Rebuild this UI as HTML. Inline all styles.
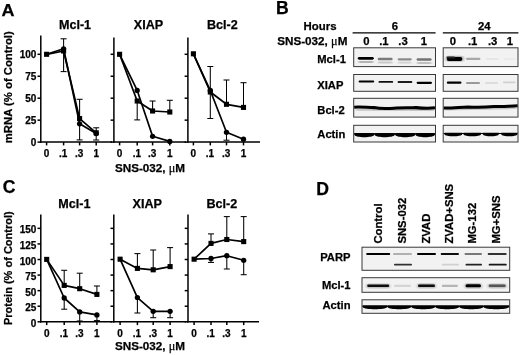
<!DOCTYPE html>
<html><head><meta charset="utf-8"><title>Figure</title>
<style>html,body{margin:0;padding:0;background:#fff;}svg{display:block;}.t{stroke:#000;stroke-width:0.25px;}</style>
</head><body>
<svg width="520" height="355" viewBox="0 0 520 355" font-family='"Liberation Sans", sans-serif' fill="#000" stroke="#000" stroke-width="0" >
<rect width="520" height="355" fill="#fff"/>
<text class="t" x="1.50" y="16.10" font-size="17.2" text-anchor="start" font-weight="bold" textLength="13" lengthAdjust="spacingAndGlyphs">A</text>
<text class="t" x="276.10" y="14.00" font-size="17.6" text-anchor="start" font-weight="bold" >B</text>
<text class="t" x="2.80" y="193.30" font-size="17.6" text-anchor="start" font-weight="bold" >C</text>
<text class="t" x="316.20" y="195.30" font-size="17.6" text-anchor="start" font-weight="bold" >D</text>
<g id="panelA">
<line x1="40.80" y1="35.40" x2="40.80" y2="142.85" stroke="#000" stroke-width="1.5" />
<line x1="40.05" y1="142.10" x2="112.00" y2="142.10" stroke="#000" stroke-width="1.5" />
<line x1="37.50" y1="54.30" x2="40.80" y2="54.30" stroke="#000" stroke-width="1.5" />
<line x1="37.50" y1="76.25" x2="40.80" y2="76.25" stroke="#000" stroke-width="1.5" />
<line x1="37.50" y1="98.20" x2="40.80" y2="98.20" stroke="#000" stroke-width="1.5" />
<line x1="37.50" y1="120.15" x2="40.80" y2="120.15" stroke="#000" stroke-width="1.5" />
<line x1="37.50" y1="142.10" x2="40.80" y2="142.10" stroke="#000" stroke-width="1.5" />
<line x1="46.60" y1="142.10" x2="46.60" y2="145.40" stroke="#000" stroke-width="1.5" />
<line x1="63.60" y1="142.10" x2="63.60" y2="145.40" stroke="#000" stroke-width="1.5" />
<line x1="79.60" y1="142.10" x2="79.60" y2="145.40" stroke="#000" stroke-width="1.5" />
<line x1="96.20" y1="142.10" x2="96.20" y2="145.40" stroke="#000" stroke-width="1.5" />
<text class="t" x="46.60" y="156.50" font-size="10" text-anchor="middle" font-weight="bold" >0</text>
<text class="t" x="63.20" y="156.50" font-size="10" text-anchor="middle" font-weight="bold" >.1</text>
<text class="t" x="79.20" y="156.50" font-size="10" text-anchor="middle" font-weight="bold" >.3</text>
<text class="t" x="96.20" y="156.50" font-size="10" text-anchor="middle" font-weight="bold" >1</text>
<text class="t" x="36.40" y="57.90" font-size="10" text-anchor="end" font-weight="bold" >100</text>
<text class="t" x="36.40" y="79.85" font-size="10" text-anchor="end" font-weight="bold" >75</text>
<text class="t" x="36.40" y="101.80" font-size="10" text-anchor="end" font-weight="bold" >50</text>
<text class="t" x="36.40" y="123.75" font-size="10" text-anchor="end" font-weight="bold" >25</text>
<text class="t" x="36.40" y="145.70" font-size="10" text-anchor="end" font-weight="bold" >0</text>
<text class="t" x="75.00" y="29.10" font-size="12.6" text-anchor="middle" font-weight="bold" >Mcl-1</text>
<line x1="113.90" y1="37.40" x2="113.90" y2="142.85" stroke="#000" stroke-width="1.5" />
<line x1="113.15" y1="142.10" x2="186.00" y2="142.10" stroke="#000" stroke-width="1.5" />
<line x1="110.60" y1="54.30" x2="113.90" y2="54.30" stroke="#000" stroke-width="1.5" />
<line x1="110.60" y1="76.25" x2="113.90" y2="76.25" stroke="#000" stroke-width="1.5" />
<line x1="110.60" y1="98.20" x2="113.90" y2="98.20" stroke="#000" stroke-width="1.5" />
<line x1="110.60" y1="120.15" x2="113.90" y2="120.15" stroke="#000" stroke-width="1.5" />
<line x1="110.60" y1="142.10" x2="113.90" y2="142.10" stroke="#000" stroke-width="1.5" />
<line x1="119.60" y1="142.10" x2="119.60" y2="145.40" stroke="#000" stroke-width="1.5" />
<line x1="137.20" y1="142.10" x2="137.20" y2="145.40" stroke="#000" stroke-width="1.5" />
<line x1="152.60" y1="142.10" x2="152.60" y2="145.40" stroke="#000" stroke-width="1.5" />
<line x1="169.80" y1="142.10" x2="169.80" y2="145.40" stroke="#000" stroke-width="1.5" />
<text class="t" x="119.60" y="156.50" font-size="10" text-anchor="middle" font-weight="bold" >0</text>
<text class="t" x="136.80" y="156.50" font-size="10" text-anchor="middle" font-weight="bold" >.1</text>
<text class="t" x="152.20" y="156.50" font-size="10" text-anchor="middle" font-weight="bold" >.3</text>
<text class="t" x="169.80" y="156.50" font-size="10" text-anchor="middle" font-weight="bold" >1</text>
<text class="t" x="148.50" y="29.10" font-size="12.6" text-anchor="middle" font-weight="bold" >XIAP</text>
<line x1="187.90" y1="37.40" x2="187.90" y2="142.85" stroke="#000" stroke-width="1.5" />
<line x1="187.15" y1="142.10" x2="260.00" y2="142.10" stroke="#000" stroke-width="1.5" />
<line x1="184.60" y1="54.30" x2="187.90" y2="54.30" stroke="#000" stroke-width="1.5" />
<line x1="184.60" y1="76.25" x2="187.90" y2="76.25" stroke="#000" stroke-width="1.5" />
<line x1="184.60" y1="98.20" x2="187.90" y2="98.20" stroke="#000" stroke-width="1.5" />
<line x1="184.60" y1="120.15" x2="187.90" y2="120.15" stroke="#000" stroke-width="1.5" />
<line x1="184.60" y1="142.10" x2="187.90" y2="142.10" stroke="#000" stroke-width="1.5" />
<line x1="193.40" y1="142.10" x2="193.40" y2="145.40" stroke="#000" stroke-width="1.5" />
<line x1="210.30" y1="142.10" x2="210.30" y2="145.40" stroke="#000" stroke-width="1.5" />
<line x1="226.50" y1="142.10" x2="226.50" y2="145.40" stroke="#000" stroke-width="1.5" />
<line x1="243.50" y1="142.10" x2="243.50" y2="145.40" stroke="#000" stroke-width="1.5" />
<text class="t" x="193.40" y="156.50" font-size="10" text-anchor="middle" font-weight="bold" >0</text>
<text class="t" x="209.90" y="156.50" font-size="10" text-anchor="middle" font-weight="bold" >.1</text>
<text class="t" x="226.10" y="156.50" font-size="10" text-anchor="middle" font-weight="bold" >.3</text>
<text class="t" x="243.50" y="156.50" font-size="10" text-anchor="middle" font-weight="bold" >1</text>
<text class="t" x="222.30" y="29.10" font-size="12.6" text-anchor="middle" font-weight="bold" >Bcl-2</text>
<text class="t" transform="translate(12.20,143.20) rotate(-90)" font-size="11.3" text-anchor="start" font-weight="bold">mRNA (% of Control)</text>
<text class="t" x="150" y="171.7" font-size="11.7" text-anchor="middle" font-weight="bold">SNS-032, <tspan font-weight="normal" font-family='"Liberation Serif", serif' font-size="12.2">μ</tspan>M</text>
<line x1="63.60" y1="49.00" x2="63.60" y2="38.80" stroke="#000" stroke-width="1.05" />
<line x1="60.60" y1="38.80" x2="66.60" y2="38.80" stroke="#000" stroke-width="1.05" />
<line x1="63.60" y1="51.00" x2="63.60" y2="71.60" stroke="#000" stroke-width="1.05" />
<line x1="60.60" y1="71.60" x2="66.60" y2="71.60" stroke="#000" stroke-width="1.05" />
<line x1="79.60" y1="118.50" x2="79.60" y2="99.30" stroke="#000" stroke-width="1.05" />
<line x1="76.60" y1="99.30" x2="82.60" y2="99.30" stroke="#000" stroke-width="1.05" />
<line x1="79.60" y1="124.00" x2="79.60" y2="139.90" stroke="#000" stroke-width="1.05" />
<line x1="76.60" y1="139.90" x2="82.60" y2="139.90" stroke="#000" stroke-width="1.05" />
<line x1="96.20" y1="133.00" x2="96.20" y2="127.80" stroke="#000" stroke-width="1.05" />
<line x1="93.20" y1="127.80" x2="99.20" y2="127.80" stroke="#000" stroke-width="1.05" />
<line x1="96.20" y1="133.50" x2="96.20" y2="140.00" stroke="#000" stroke-width="1.05" />
<line x1="93.20" y1="140.00" x2="99.20" y2="140.00" stroke="#000" stroke-width="1.05" />
<polyline points="46.60,54.30 63.60,51.00 79.60,118.60 96.20,132.80" fill="none" stroke="#000" stroke-width="1.7" stroke-linejoin="round"/>
<polyline points="46.60,54.30 63.60,48.80 79.60,123.80 96.20,133.50" fill="none" stroke="#000" stroke-width="1.7" stroke-linejoin="round"/>
<rect x="44.05" y="51.75" width="5.1" height="5.1" fill="#000"/>
<rect x="61.05" y="48.45" width="5.1" height="5.1" fill="#000"/>
<rect x="77.05" y="116.05" width="5.1" height="5.1" fill="#000"/>
<rect x="93.65" y="130.25" width="5.1" height="5.1" fill="#000"/>
<circle cx="63.60" cy="48.80" r="2.65" fill="#000"/>
<circle cx="79.60" cy="123.80" r="2.65" fill="#000"/>
<circle cx="96.20" cy="133.50" r="2.65" fill="#000"/>
<line x1="137.20" y1="101.00" x2="137.20" y2="119.90" stroke="#000" stroke-width="1.05" />
<line x1="134.20" y1="119.90" x2="140.20" y2="119.90" stroke="#000" stroke-width="1.05" />
<line x1="152.60" y1="111.00" x2="152.60" y2="101.00" stroke="#000" stroke-width="1.05" />
<line x1="149.60" y1="101.00" x2="155.60" y2="101.00" stroke="#000" stroke-width="1.05" />
<line x1="169.80" y1="112.00" x2="169.80" y2="100.30" stroke="#000" stroke-width="1.05" />
<line x1="166.80" y1="100.30" x2="172.80" y2="100.30" stroke="#000" stroke-width="1.05" />
<polyline points="119.60,54.30 137.20,101.00 152.60,111.00 169.80,112.00" fill="none" stroke="#000" stroke-width="1.7" stroke-linejoin="round"/>
<polyline points="119.60,54.30 137.20,90.40 152.60,136.30 169.80,141.40" fill="none" stroke="#000" stroke-width="1.7" stroke-linejoin="round"/>
<rect x="117.05" y="51.75" width="5.1" height="5.1" fill="#000"/>
<rect x="134.65" y="98.45" width="5.1" height="5.1" fill="#000"/>
<rect x="150.05" y="108.45" width="5.1" height="5.1" fill="#000"/>
<rect x="167.25" y="109.45" width="5.1" height="5.1" fill="#000"/>
<circle cx="137.20" cy="90.40" r="2.65" fill="#000"/>
<circle cx="152.60" cy="136.30" r="2.65" fill="#000"/>
<circle cx="169.80" cy="141.40" r="2.65" fill="#000"/>
<line x1="210.30" y1="91.00" x2="210.30" y2="66.50" stroke="#000" stroke-width="1.05" />
<line x1="207.30" y1="66.50" x2="213.30" y2="66.50" stroke="#000" stroke-width="1.05" />
<line x1="210.30" y1="91.00" x2="210.30" y2="118.50" stroke="#000" stroke-width="1.05" />
<line x1="207.30" y1="118.50" x2="213.30" y2="118.50" stroke="#000" stroke-width="1.05" />
<line x1="226.50" y1="104.30" x2="226.50" y2="80.00" stroke="#000" stroke-width="1.05" />
<line x1="223.50" y1="80.00" x2="229.50" y2="80.00" stroke="#000" stroke-width="1.05" />
<line x1="226.50" y1="132.30" x2="226.50" y2="140.20" stroke="#000" stroke-width="1.05" />
<line x1="223.50" y1="140.20" x2="229.50" y2="140.20" stroke="#000" stroke-width="1.05" />
<line x1="243.50" y1="107.40" x2="243.50" y2="82.70" stroke="#000" stroke-width="1.05" />
<line x1="240.50" y1="82.70" x2="246.50" y2="82.70" stroke="#000" stroke-width="1.05" />
<polyline points="193.40,53.80 210.30,92.00 226.50,104.30 243.50,107.40" fill="none" stroke="#000" stroke-width="1.7" stroke-linejoin="round"/>
<polyline points="193.40,53.80 210.30,90.50 226.50,132.30 243.50,139.20" fill="none" stroke="#000" stroke-width="1.7" stroke-linejoin="round"/>
<rect x="190.85" y="51.25" width="5.1" height="5.1" fill="#000"/>
<rect x="207.75" y="89.45" width="5.1" height="5.1" fill="#000"/>
<rect x="223.95" y="101.75" width="5.1" height="5.1" fill="#000"/>
<rect x="240.95" y="104.85" width="5.1" height="5.1" fill="#000"/>
<circle cx="210.30" cy="90.50" r="2.65" fill="#000"/>
<circle cx="226.50" cy="132.30" r="2.65" fill="#000"/>
<circle cx="243.50" cy="139.20" r="2.65" fill="#000"/>
</g>
<g id="panelC">
<line x1="40.80" y1="214.50" x2="40.80" y2="322.55" stroke="#000" stroke-width="1.5" />
<line x1="40.05" y1="321.80" x2="112.00" y2="321.80" stroke="#000" stroke-width="1.5" />
<line x1="37.50" y1="228.35" x2="40.80" y2="228.35" stroke="#000" stroke-width="1.5" />
<line x1="37.50" y1="243.93" x2="40.80" y2="243.93" stroke="#000" stroke-width="1.5" />
<line x1="37.50" y1="259.50" x2="40.80" y2="259.50" stroke="#000" stroke-width="1.5" />
<line x1="37.50" y1="275.07" x2="40.80" y2="275.07" stroke="#000" stroke-width="1.5" />
<line x1="37.50" y1="290.65" x2="40.80" y2="290.65" stroke="#000" stroke-width="1.5" />
<line x1="37.50" y1="306.23" x2="40.80" y2="306.23" stroke="#000" stroke-width="1.5" />
<line x1="37.50" y1="321.80" x2="40.80" y2="321.80" stroke="#000" stroke-width="1.5" />
<line x1="46.70" y1="321.80" x2="46.70" y2="325.10" stroke="#000" stroke-width="1.5" />
<line x1="64.20" y1="321.80" x2="64.20" y2="325.10" stroke="#000" stroke-width="1.5" />
<line x1="79.70" y1="321.80" x2="79.70" y2="325.10" stroke="#000" stroke-width="1.5" />
<line x1="96.90" y1="321.80" x2="96.90" y2="325.10" stroke="#000" stroke-width="1.5" />
<text class="t" x="46.70" y="336.50" font-size="10" text-anchor="middle" font-weight="bold" >0</text>
<text class="t" x="63.80" y="336.50" font-size="10" text-anchor="middle" font-weight="bold" >.1</text>
<text class="t" x="79.30" y="336.50" font-size="10" text-anchor="middle" font-weight="bold" >.3</text>
<text class="t" x="96.90" y="336.50" font-size="10" text-anchor="middle" font-weight="bold" >1</text>
<text class="t" x="36.40" y="233.35" font-size="10" text-anchor="end" font-weight="bold" >150</text>
<text class="t" x="36.40" y="248.93" font-size="10" text-anchor="end" font-weight="bold" >125</text>
<text class="t" x="36.40" y="264.50" font-size="10" text-anchor="end" font-weight="bold" >100</text>
<text class="t" x="36.40" y="280.07" font-size="10" text-anchor="end" font-weight="bold" >75</text>
<text class="t" x="36.40" y="295.65" font-size="10" text-anchor="end" font-weight="bold" >50</text>
<text class="t" x="36.40" y="311.23" font-size="10" text-anchor="end" font-weight="bold" >25</text>
<text class="t" x="36.40" y="326.80" font-size="10" text-anchor="end" font-weight="bold" >0</text>
<text class="t" x="74.40" y="207.80" font-size="12.6" text-anchor="middle" font-weight="bold" >Mcl-1</text>
<line x1="113.80" y1="214.50" x2="113.80" y2="322.55" stroke="#000" stroke-width="1.5" />
<line x1="113.05" y1="321.80" x2="186.00" y2="321.80" stroke="#000" stroke-width="1.5" />
<line x1="110.50" y1="228.35" x2="113.80" y2="228.35" stroke="#000" stroke-width="1.5" />
<line x1="110.50" y1="243.93" x2="113.80" y2="243.93" stroke="#000" stroke-width="1.5" />
<line x1="110.50" y1="259.50" x2="113.80" y2="259.50" stroke="#000" stroke-width="1.5" />
<line x1="110.50" y1="275.07" x2="113.80" y2="275.07" stroke="#000" stroke-width="1.5" />
<line x1="110.50" y1="290.65" x2="113.80" y2="290.65" stroke="#000" stroke-width="1.5" />
<line x1="110.50" y1="306.23" x2="113.80" y2="306.23" stroke="#000" stroke-width="1.5" />
<line x1="110.50" y1="321.80" x2="113.80" y2="321.80" stroke="#000" stroke-width="1.5" />
<line x1="120.10" y1="321.80" x2="120.10" y2="325.10" stroke="#000" stroke-width="1.5" />
<line x1="137.40" y1="321.80" x2="137.40" y2="325.10" stroke="#000" stroke-width="1.5" />
<line x1="153.20" y1="321.80" x2="153.20" y2="325.10" stroke="#000" stroke-width="1.5" />
<line x1="170.10" y1="321.80" x2="170.10" y2="325.10" stroke="#000" stroke-width="1.5" />
<text class="t" x="120.10" y="336.50" font-size="10" text-anchor="middle" font-weight="bold" >0</text>
<text class="t" x="137.00" y="336.50" font-size="10" text-anchor="middle" font-weight="bold" >.1</text>
<text class="t" x="152.80" y="336.50" font-size="10" text-anchor="middle" font-weight="bold" >.3</text>
<text class="t" x="170.10" y="336.50" font-size="10" text-anchor="middle" font-weight="bold" >1</text>
<text class="t" x="147.30" y="207.80" font-size="12.6" text-anchor="middle" font-weight="bold" >XIAP</text>
<line x1="188.00" y1="214.50" x2="188.00" y2="322.55" stroke="#000" stroke-width="1.5" />
<line x1="187.25" y1="321.80" x2="259.00" y2="321.80" stroke="#000" stroke-width="1.5" />
<line x1="184.70" y1="228.35" x2="188.00" y2="228.35" stroke="#000" stroke-width="1.5" />
<line x1="184.70" y1="243.93" x2="188.00" y2="243.93" stroke="#000" stroke-width="1.5" />
<line x1="184.70" y1="259.50" x2="188.00" y2="259.50" stroke="#000" stroke-width="1.5" />
<line x1="184.70" y1="275.07" x2="188.00" y2="275.07" stroke="#000" stroke-width="1.5" />
<line x1="184.70" y1="290.65" x2="188.00" y2="290.65" stroke="#000" stroke-width="1.5" />
<line x1="184.70" y1="306.23" x2="188.00" y2="306.23" stroke="#000" stroke-width="1.5" />
<line x1="184.70" y1="321.80" x2="188.00" y2="321.80" stroke="#000" stroke-width="1.5" />
<line x1="194.10" y1="321.80" x2="194.10" y2="325.10" stroke="#000" stroke-width="1.5" />
<line x1="211.00" y1="321.80" x2="211.00" y2="325.10" stroke="#000" stroke-width="1.5" />
<line x1="226.80" y1="321.80" x2="226.80" y2="325.10" stroke="#000" stroke-width="1.5" />
<line x1="243.70" y1="321.80" x2="243.70" y2="325.10" stroke="#000" stroke-width="1.5" />
<text class="t" x="194.10" y="336.50" font-size="10" text-anchor="middle" font-weight="bold" >0</text>
<text class="t" x="210.60" y="336.50" font-size="10" text-anchor="middle" font-weight="bold" >.1</text>
<text class="t" x="226.40" y="336.50" font-size="10" text-anchor="middle" font-weight="bold" >.3</text>
<text class="t" x="243.70" y="336.50" font-size="10" text-anchor="middle" font-weight="bold" >1</text>
<text class="t" x="221.80" y="207.80" font-size="12.6" text-anchor="middle" font-weight="bold" >Bcl-2</text>
<text class="t" transform="translate(11.60,325.00) rotate(-90)" font-size="11.0" text-anchor="start" font-weight="bold">Protein (% of Control)</text>
<text class="t" x="150" y="350.4" font-size="11.7" text-anchor="middle" font-weight="bold">SNS-032, <tspan font-weight="normal" font-family='"Liberation Serif", serif' font-size="12.2">μ</tspan>M</text>
<line x1="64.20" y1="285.40" x2="64.20" y2="270.30" stroke="#000" stroke-width="1.05" />
<line x1="61.20" y1="270.30" x2="67.20" y2="270.30" stroke="#000" stroke-width="1.05" />
<line x1="79.70" y1="288.70" x2="79.70" y2="273.20" stroke="#000" stroke-width="1.05" />
<line x1="76.70" y1="273.20" x2="82.70" y2="273.20" stroke="#000" stroke-width="1.05" />
<line x1="96.90" y1="294.40" x2="96.90" y2="286.00" stroke="#000" stroke-width="1.05" />
<line x1="93.90" y1="286.00" x2="99.90" y2="286.00" stroke="#000" stroke-width="1.05" />
<line x1="64.20" y1="298.00" x2="64.20" y2="309.20" stroke="#000" stroke-width="1.05" />
<line x1="61.20" y1="309.20" x2="67.20" y2="309.20" stroke="#000" stroke-width="1.05" />
<line x1="79.70" y1="311.90" x2="79.70" y2="321.00" stroke="#000" stroke-width="1.05" />
<line x1="76.70" y1="321.00" x2="82.70" y2="321.00" stroke="#000" stroke-width="1.05" />
<line x1="96.90" y1="314.90" x2="96.90" y2="320.60" stroke="#000" stroke-width="1.05" />
<line x1="93.90" y1="320.60" x2="99.90" y2="320.60" stroke="#000" stroke-width="1.05" />
<polyline points="46.70,259.40 64.20,285.40 79.70,288.70 96.90,294.40" fill="none" stroke="#000" stroke-width="1.7" stroke-linejoin="round"/>
<polyline points="46.70,259.40 64.20,298.00 79.70,311.90 96.90,314.90" fill="none" stroke="#000" stroke-width="1.7" stroke-linejoin="round"/>
<rect x="44.15" y="256.85" width="5.1" height="5.1" fill="#000"/>
<rect x="61.65" y="282.85" width="5.1" height="5.1" fill="#000"/>
<rect x="77.15" y="286.15" width="5.1" height="5.1" fill="#000"/>
<rect x="94.35" y="291.85" width="5.1" height="5.1" fill="#000"/>
<circle cx="64.20" cy="298.00" r="2.65" fill="#000"/>
<circle cx="79.70" cy="311.90" r="2.65" fill="#000"/>
<circle cx="96.90" cy="314.90" r="2.65" fill="#000"/>
<line x1="137.40" y1="268.40" x2="137.40" y2="253.60" stroke="#000" stroke-width="1.05" />
<line x1="134.40" y1="253.60" x2="140.40" y2="253.60" stroke="#000" stroke-width="1.05" />
<line x1="153.20" y1="269.80" x2="153.20" y2="250.00" stroke="#000" stroke-width="1.05" />
<line x1="150.20" y1="250.00" x2="156.20" y2="250.00" stroke="#000" stroke-width="1.05" />
<line x1="170.10" y1="266.60" x2="170.10" y2="247.60" stroke="#000" stroke-width="1.05" />
<line x1="167.10" y1="247.60" x2="173.10" y2="247.60" stroke="#000" stroke-width="1.05" />
<line x1="137.40" y1="297.60" x2="137.40" y2="313.00" stroke="#000" stroke-width="1.05" />
<line x1="134.40" y1="313.00" x2="140.40" y2="313.00" stroke="#000" stroke-width="1.05" />
<line x1="153.20" y1="311.30" x2="153.20" y2="317.70" stroke="#000" stroke-width="1.05" />
<line x1="150.20" y1="317.70" x2="156.20" y2="317.70" stroke="#000" stroke-width="1.05" />
<line x1="170.10" y1="311.30" x2="170.10" y2="317.70" stroke="#000" stroke-width="1.05" />
<line x1="167.10" y1="317.70" x2="173.10" y2="317.70" stroke="#000" stroke-width="1.05" />
<polyline points="120.10,259.20 137.40,268.40 153.20,269.80 170.10,266.60" fill="none" stroke="#000" stroke-width="1.7" stroke-linejoin="round"/>
<polyline points="120.10,259.20 137.40,297.60 153.20,311.30 170.10,311.30" fill="none" stroke="#000" stroke-width="1.7" stroke-linejoin="round"/>
<rect x="117.55" y="256.65" width="5.1" height="5.1" fill="#000"/>
<rect x="134.85" y="265.85" width="5.1" height="5.1" fill="#000"/>
<rect x="150.65" y="267.25" width="5.1" height="5.1" fill="#000"/>
<rect x="167.55" y="264.05" width="5.1" height="5.1" fill="#000"/>
<circle cx="137.40" cy="297.60" r="2.65" fill="#000"/>
<circle cx="153.20" cy="311.30" r="2.65" fill="#000"/>
<circle cx="170.10" cy="311.30" r="2.65" fill="#000"/>
<path d="M356,109.6 L434,109.8" fill="none" stroke="#999" stroke-width="2.2" opacity="0.5" filter="url(#b2)"/>
<path d="M445,109.4 L516,108.0" fill="none" stroke="#999" stroke-width="2.2" opacity="0.5" filter="url(#b2)"/>
<line x1="211.00" y1="243.40" x2="211.00" y2="233.90" stroke="#000" stroke-width="1.05" />
<line x1="208.00" y1="233.90" x2="214.00" y2="233.90" stroke="#000" stroke-width="1.05" />
<line x1="226.80" y1="239.50" x2="226.80" y2="216.60" stroke="#000" stroke-width="1.05" />
<line x1="223.80" y1="216.60" x2="229.80" y2="216.60" stroke="#000" stroke-width="1.05" />
<line x1="243.70" y1="241.60" x2="243.70" y2="216.60" stroke="#000" stroke-width="1.05" />
<line x1="240.70" y1="216.60" x2="246.70" y2="216.60" stroke="#000" stroke-width="1.05" />
<line x1="211.00" y1="258.50" x2="211.00" y2="262.40" stroke="#000" stroke-width="1.05" />
<line x1="208.00" y1="262.40" x2="214.00" y2="262.40" stroke="#000" stroke-width="1.05" />
<line x1="226.80" y1="255.70" x2="226.80" y2="269.00" stroke="#000" stroke-width="1.05" />
<line x1="223.80" y1="269.00" x2="229.80" y2="269.00" stroke="#000" stroke-width="1.05" />
<line x1="243.70" y1="260.30" x2="243.70" y2="274.70" stroke="#000" stroke-width="1.05" />
<line x1="240.70" y1="274.70" x2="246.70" y2="274.70" stroke="#000" stroke-width="1.05" />
<polyline points="194.10,259.20 211.00,243.40 226.80,239.50 243.70,241.60" fill="none" stroke="#000" stroke-width="1.7" stroke-linejoin="round"/>
<polyline points="194.10,259.20 211.00,258.50 226.80,255.70 243.70,260.30" fill="none" stroke="#000" stroke-width="1.7" stroke-linejoin="round"/>
<rect x="191.55" y="256.65" width="5.1" height="5.1" fill="#000"/>
<rect x="208.45" y="240.85" width="5.1" height="5.1" fill="#000"/>
<rect x="224.25" y="236.95" width="5.1" height="5.1" fill="#000"/>
<rect x="241.15" y="239.05" width="5.1" height="5.1" fill="#000"/>
<circle cx="211.00" cy="258.50" r="2.65" fill="#000"/>
<circle cx="226.80" cy="255.70" r="2.65" fill="#000"/>
<circle cx="243.70" cy="260.30" r="2.65" fill="#000"/>
</g>
<defs><filter id="b1" x="-20%" y="-200%" width="140%" height="500%"><feGaussianBlur stdDeviation="0.6 0.45"/></filter>
<filter id="b2" x="-20%" y="-200%" width="140%" height="500%"><feGaussianBlur stdDeviation="0.9 0.7"/></filter></defs>
<g id="panelB">
<text class="t" x="303.60" y="29.70" font-size="11.4" text-anchor="start" font-weight="bold" >Hours</text>
<text class="t" x="277.2" y="44.8" font-size="11.7" text-anchor="start" font-weight="bold">SNS-032, <tspan font-weight="normal" font-family='"Liberation Serif", serif' font-size="12.2">μ</tspan>M</text>
<text class="t" x="394.80" y="29.70" font-size="11.3" text-anchor="middle" font-weight="bold" >6</text>
<text class="t" x="484.30" y="29.70" font-size="11.3" text-anchor="middle" font-weight="bold" >24</text>
<line x1="352.60" y1="32.90" x2="435.60" y2="32.90" stroke="#000" stroke-width="1.2" />
<line x1="442.80" y1="32.90" x2="518.40" y2="32.90" stroke="#000" stroke-width="1.2" />
<text class="t" x="366.40" y="44.80" font-size="11.3" text-anchor="middle" font-weight="bold" >0</text>
<text class="t" x="383.90" y="44.80" font-size="11.3" text-anchor="middle" font-weight="bold" >.1</text>
<text class="t" x="403.00" y="44.80" font-size="11.3" text-anchor="middle" font-weight="bold" >.3</text>
<text class="t" x="424.00" y="44.80" font-size="11.3" text-anchor="middle" font-weight="bold" >1</text>
<text class="t" x="452.80" y="44.80" font-size="11.3" text-anchor="middle" font-weight="bold" >0</text>
<text class="t" x="472.70" y="44.80" font-size="11.3" text-anchor="middle" font-weight="bold" >.1</text>
<text class="t" x="492.70" y="44.80" font-size="11.3" text-anchor="middle" font-weight="bold" >.3</text>
<text class="t" x="509.80" y="44.80" font-size="11.3" text-anchor="middle" font-weight="bold" >1</text>
<text class="t" x="317.30" y="62.60" font-size="11.2" text-anchor="start" font-weight="bold" >Mcl-1</text>
<rect x="353.70" y="47.80" width="81.80" height="18.80" fill="#f2f2f2" stroke="#383838" stroke-width="1"/>
<rect x="443.20" y="47.80" width="74.80" height="18.80" fill="#f2f2f2" stroke="#383838" stroke-width="1"/>
<text class="t" x="317.30" y="89.00" font-size="11.2" text-anchor="start" font-weight="bold" >XIAP</text>
<rect x="353.70" y="74.50" width="81.80" height="16.80" fill="#f2f2f2" stroke="#383838" stroke-width="1"/>
<rect x="443.20" y="74.50" width="74.80" height="16.80" fill="#f2f2f2" stroke="#383838" stroke-width="1"/>
<text class="t" x="317.30" y="113.80" font-size="11.2" text-anchor="start" font-weight="bold" >Bcl-2</text>
<rect x="353.70" y="98.30" width="81.80" height="18.80" fill="#f2f2f2" stroke="#383838" stroke-width="1"/>
<rect x="443.20" y="98.30" width="74.80" height="18.80" fill="#f2f2f2" stroke="#383838" stroke-width="1"/>
<text class="t" x="317.30" y="138.20" font-size="11.2" text-anchor="start" font-weight="bold" >Actin</text>
<rect x="353.70" y="125.30" width="81.80" height="16.70" fill="#f2f2f2" stroke="#383838" stroke-width="1"/>
<rect x="443.20" y="125.30" width="74.80" height="16.70" fill="#f2f2f2" stroke="#383838" stroke-width="1"/>
<rect x="357.80" y="56.90" width="16.00" height="2.80" rx="1.40" fill="#000" opacity="1" filter="url(#b1)"/>
<rect x="358.50" y="61.00" width="15.00" height="2.00" rx="1.00" fill="#b4b4b4" opacity="1" filter="url(#b2)"/>
<rect x="377.70" y="57.75" width="14.90" height="2.50" rx="1.25" fill="#7a7a7a" opacity="1" filter="url(#b1)"/>
<rect x="378.00" y="61.55" width="14.50" height="1.90" rx="0.95" fill="#c8c8c8" opacity="1" filter="url(#b2)"/>
<rect x="397.60" y="58.15" width="14.20" height="2.30" rx="1.15" fill="#8c8c8c" opacity="1" filter="url(#b1)"/>
<rect x="398.00" y="61.80" width="13.50" height="1.80" rx="0.90" fill="#d0d0d0" opacity="1" filter="url(#b2)"/>
<rect x="416.60" y="58.25" width="15.00" height="2.50" rx="1.25" fill="#747474" opacity="1" filter="url(#b1)"/>
<rect x="417.00" y="62.00" width="14.50" height="2.00" rx="1.00" fill="#c0c0c0" opacity="1" filter="url(#b2)"/>
<rect x="445.50" y="55.80" width="18.50" height="6.00" rx="3.00" fill="#888" opacity="0.55" filter="url(#b2)"/>
<rect x="446.80" y="57.10" width="15.50" height="3.80" rx="1.90" fill="#000" opacity="1" filter="url(#b1)"/>
<rect x="446.50" y="56.60" width="8.50" height="2.00" rx="1.00" fill="#222" opacity="1" filter="url(#b1)"/>
<rect x="466.00" y="57.70" width="14.50" height="2.20" rx="1.10" fill="#a8a8a8" opacity="1" filter="url(#b1)"/>
<rect x="486.00" y="58.20" width="13.00" height="1.60" rx="0.80" fill="#e2e2e2" opacity="1" filter="url(#b1)"/>
<rect x="504.00" y="58.30" width="11.50" height="1.40" rx="0.70" fill="#e8e8e8" opacity="1" filter="url(#b1)"/>
<rect x="358.60" y="80.50" width="15.60" height="2.00" rx="1.00" fill="#000" opacity="1" filter="url(#b1)"/>
<rect x="378.50" y="80.95" width="14.70" height="1.90" rx="0.95" fill="#111" opacity="1" filter="url(#b1)"/>
<rect x="397.60" y="81.10" width="14.70" height="1.80" rx="0.90" fill="#1a1a1a" opacity="1" filter="url(#b1)"/>
<rect x="416.60" y="81.70" width="15.40" height="2.20" rx="1.10" fill="#000" opacity="1" filter="url(#b1)"/>
<rect x="446.80" y="81.55" width="14.70" height="2.30" rx="1.15" fill="#000" opacity="1" filter="url(#b1)"/>
<rect x="466.00" y="81.90" width="14.00" height="2.00" rx="1.00" fill="#999" opacity="1" filter="url(#b1)"/>
<rect x="485.00" y="82.20" width="13.00" height="1.60" rx="0.80" fill="#d5d5d5" opacity="1" filter="url(#b1)"/>
<rect x="503.00" y="81.50" width="12.50" height="1.80" rx="0.90" fill="#d0d0d0" opacity="1" filter="url(#b1)"/>
<path d="M356,109.6 L434,109.8" fill="none" stroke="#999" stroke-width="2.2" opacity="0.5" filter="url(#b2)"/>
<path d="M445,109.4 L516,108.0" fill="none" stroke="#999" stroke-width="2.2" opacity="0.5" filter="url(#b2)"/>
<path d="M354.2,107.2 C360,106.6 368,107.6 374,107.6 C378,108.4 386,108.8 394,108.2 C402,107.6 410,108 416,107.6 C422,108.2 430,108.4 435,107.8" fill="none" stroke="#000" stroke-width="3.1" filter="url(#b1)"/>
<path d="M443.7,108 C452,108.2 460,107.2 468,107 C478,107.4 486,107.2 494,106.6 C502,106.6 510,106 517.6,105.8" fill="none" stroke="#000" stroke-width="3.0" filter="url(#b1)"/>
<path d="M354.50,133.10 L374.20,133.10 L374.20,135.00 C373.21,137.90 355.49,137.90 354.50,135.00 Z" fill="#000" filter="url(#b1)"/>
<path d="M374.80,133.10 L394.70,133.10 L394.70,135.00 C393.70,137.90 375.80,137.90 374.80,135.00 Z" fill="#000" filter="url(#b1)"/>
<path d="M395.30,133.10 L415.10,133.10 L415.10,135.00 C414.11,137.90 396.29,137.90 395.30,135.00 Z" fill="#000" filter="url(#b1)"/>
<path d="M415.70,133.10 L434.70,133.10 L434.70,135.00 C433.75,137.90 416.65,137.90 415.70,135.00 Z" fill="#000" filter="url(#b1)"/>
<line x1="354.20" y1="133.90" x2="435.00" y2="133.90" stroke="#000" stroke-width="1.5" />
<path d="M444.40,132.80 L462.20,132.80 L462.20,134.20 C461.31,137.00 445.29,137.00 444.40,134.20 Z" fill="#000" filter="url(#b1)"/>
<path d="M463.50,132.80 L481.10,132.80 L481.10,134.20 C480.22,137.00 464.38,137.00 463.50,134.20 Z" fill="#000" filter="url(#b1)"/>
<path d="M482.80,132.80 L498.90,132.80 L498.90,134.20 C498.09,137.00 483.61,137.00 482.80,134.20 Z" fill="#000" filter="url(#b1)"/>
<path d="M501.20,132.80 L517.40,132.80 L517.40,134.20 C516.59,137.00 502.01,137.00 501.20,134.20 Z" fill="#000" filter="url(#b1)"/>
<line x1="443.70" y1="133.50" x2="517.50" y2="133.50" stroke="#000" stroke-width="1.0" />
</g>
<g id="panelD">
<text class="t" transform="translate(381.70,243.60) rotate(-90)" font-size="11.3" text-anchor="start" font-weight="bold">Control</text>
<text class="t" transform="translate(406.10,243.60) rotate(-90)" font-size="11.3" text-anchor="start" font-weight="bold">SNS-032</text>
<text class="t" transform="translate(429.50,243.60) rotate(-90)" font-size="11.3" text-anchor="start" font-weight="bold">ZVAD</text>
<text class="t" transform="translate(452.80,243.60) rotate(-90)" font-size="11.3" text-anchor="start" font-weight="bold">ZVAD+SNS</text>
<text class="t" transform="translate(476.40,243.60) rotate(-90)" font-size="11.3" text-anchor="start" font-weight="bold">MG-132</text>
<text class="t" transform="translate(499.90,243.60) rotate(-90)" font-size="11.3" text-anchor="start" font-weight="bold">MG+SNS</text>
<text class="t" x="350.50" y="261.20" font-size="11.2" text-anchor="end" font-weight="bold" >PARP</text>
<text class="t" x="350.50" y="288.80" font-size="11.2" text-anchor="end" font-weight="bold" >Mcl-1</text>
<text class="t" x="350.50" y="308.50" font-size="11.2" text-anchor="end" font-weight="bold" >Actin</text>
<rect x="362.00" y="247.20" width="147.70" height="23.10" fill="#f2f2f2" stroke="#383838" stroke-width="1"/>
<rect x="362.00" y="277.70" width="147.70" height="14.60" fill="#f2f2f2" stroke="#383838" stroke-width="1"/>
<rect x="362.00" y="299.80" width="147.70" height="13.50" fill="#f2f2f2" stroke="#383838" stroke-width="1"/>
<rect x="366.20" y="253.05" width="24.00" height="1.90" rx="0.95" fill="#000" opacity="1" filter="url(#b1)"/>
<rect x="393.00" y="253.05" width="19.00" height="1.90" rx="0.95" fill="#b0b0b0" opacity="1" filter="url(#b1)"/>
<rect x="417.00" y="253.05" width="19.00" height="1.90" rx="0.95" fill="#000" opacity="1" filter="url(#b1)"/>
<rect x="440.70" y="253.05" width="18.30" height="1.90" rx="0.95" fill="#0a0a0a" opacity="1" filter="url(#b1)"/>
<rect x="464.50" y="253.05" width="17.50" height="1.90" rx="0.95" fill="#777" opacity="1" filter="url(#b1)"/>
<rect x="487.70" y="253.05" width="19.00" height="1.90" rx="0.95" fill="#333" opacity="1" filter="url(#b1)"/>
<rect x="394.00" y="263.80" width="18.00" height="1.80" rx="0.90" fill="#333" opacity="1" filter="url(#b1)"/>
<rect x="441.70" y="263.80" width="17.30" height="1.80" rx="0.90" fill="#d0d0d0" opacity="1" filter="url(#b1)"/>
<rect x="465.50" y="263.80" width="16.50" height="1.80" rx="0.90" fill="#222" opacity="1" filter="url(#b1)"/>
<rect x="488.70" y="263.80" width="18.00" height="1.80" rx="0.90" fill="#151515" opacity="1" filter="url(#b1)"/>
<rect x="366.20" y="283.40" width="24.00" height="5.00" rx="2.50" fill="#8a8a8a" opacity="0.45" filter="url(#b2)"/>
<rect x="367.20" y="284.60" width="22.00" height="2.40" rx="1.20" fill="#111" opacity="1" filter="url(#b1)"/>
<rect x="394.00" y="284.70" width="17.00" height="2.20" rx="1.10" fill="#d4d4d4" opacity="1" filter="url(#b1)"/>
<rect x="417.00" y="283.30" width="19.00" height="5.20" rx="2.60" fill="#8a8a8a" opacity="0.45" filter="url(#b2)"/>
<rect x="418.00" y="284.50" width="17.00" height="2.60" rx="1.30" fill="#0a0a0a" opacity="1" filter="url(#b1)"/>
<rect x="441.70" y="284.70" width="16.30" height="2.20" rx="1.10" fill="#b5b5b5" opacity="1" filter="url(#b1)"/>
<rect x="464.50" y="283.10" width="17.50" height="5.60" rx="2.80" fill="#8a8a8a" opacity="0.45" filter="url(#b2)"/>
<rect x="465.50" y="284.30" width="15.50" height="3.00" rx="1.50" fill="#000" opacity="1" filter="url(#b1)"/>
<rect x="487.70" y="283.40" width="19.00" height="5.00" rx="2.50" fill="#8a8a8a" opacity="0.45" filter="url(#b2)"/>
<rect x="488.70" y="284.60" width="17.00" height="2.40" rx="1.20" fill="#555" opacity="1" filter="url(#b1)"/>
<path d="M362.80,305.40 L387.00,305.40 L387.00,307.20 C385.79,309.80 364.01,309.80 362.80,307.20 Z" fill="#000" filter="url(#b1)"/>
<path d="M387.60,305.40 L410.90,305.40 L410.90,307.20 C409.73,309.80 388.77,309.80 387.60,307.20 Z" fill="#000" filter="url(#b1)"/>
<path d="M411.50,305.40 L434.90,305.40 L434.90,307.20 C433.73,309.80 412.67,309.80 411.50,307.20 Z" fill="#000" filter="url(#b1)"/>
<path d="M435.50,305.40 L458.90,305.40 L458.90,307.20 C457.73,309.80 436.67,309.80 435.50,307.20 Z" fill="#000" filter="url(#b1)"/>
<path d="M459.50,305.40 L483.10,305.40 L483.10,307.20 C481.92,309.80 460.68,309.80 459.50,307.20 Z" fill="#000" filter="url(#b1)"/>
<path d="M483.70,305.40 L508.90,305.40 L508.90,307.20 C507.64,309.80 484.96,309.80 483.70,307.20 Z" fill="#000" filter="url(#b1)"/>
<line x1="362.50" y1="306.20" x2="509.20" y2="306.20" stroke="#000" stroke-width="1.5" />
</g>
</svg>
</body></html>
